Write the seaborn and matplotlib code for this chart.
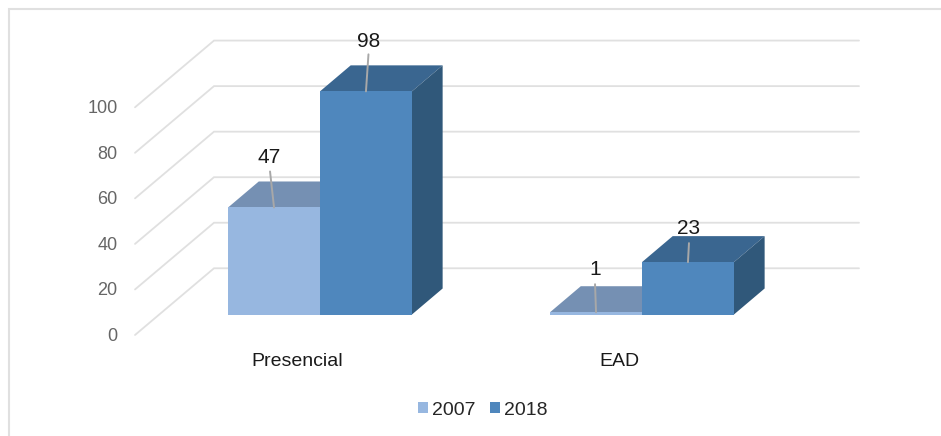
import matplotlib
matplotlib.use("Agg")
import matplotlib.pyplot as plt
from matplotlib.lines import Line2D
from matplotlib.patches import Polygon
from matplotlib.transforms import ScaledTranslation
import pandas as pd
import seaborn as sns

categories = ["Presencial", "EAD"]
years = ["2007", "2018"]
values_2007 = [47, 1]
values_2018 = [98, 23]
y_ticks = [0, 20, 40, 60, 80, 100]

FRONT = {"2007": "#97B7E0", "2018": "#4F87BD"}
TOP = {"2007": "#7590B3", "2018": "#3A6690"}
SIDE = {"2007": "#5A7595", "2018": "#30587A"}
GRID = "#E0E0E0"
LEADER = "#A8A8A8"
TICK_GREY = "#666666"

W, H = 941, 436
PX_PER_UNIT = 2.277      # vertical pixels per value unit
PX_PER_CAT = 322.0       # horizontal pixels between category centres
X0_PX, BASE_PX = 320.0, 314.5

sns.set_theme(style="white")
plt.rcParams["font.family"] = ["Liberation Sans", "DejaVu Sans"]

frame = pd.DataFrame({
    "category": categories * 2,
    "year": [years[0]] * 2 + [years[1]] * 2,
    "value": values_2007 + values_2018,
})

fig = plt.figure(figsize=(W / 100, H / 100), dpi=100, facecolor="white")
left_px, right_px = 135.0, 860.0
ax = fig.add_axes([left_px / W, (H - BASE_PX) / H, (right_px - left_px) / W, BASE_PX / H])

sns.barplot(
    data=frame, x="category", y="value", hue="year", hue_order=years,
    order=categories, palette=FRONT, saturation=1, width=0.571, gap=0,
    linewidth=0, ax=ax,
)
ax.set_xlim((left_px - X0_PX) / PX_PER_CAT, (right_px - X0_PX) / PX_PER_CAT)
ax.set_ylim(0, BASE_PX / PX_PER_UNIT)
ax.set_xlabel("")
ax.set_ylabel("")
ax.patch.set_alpha(0)
for spine in ax.spines.values():
    spine.set_visible(False)
ax.grid(False)


def cat_x(px):
    return (px - X0_PX) / PX_PER_CAT


# Receding wall grid: a diagonal on the floor side, then a run along the back wall
wall_front_x, wall_back_x, wall_end_x = cat_x(135), cat_x(214), cat_x(859)
front_drop, back_rise = 9.0, 20.3
for tick in y_ticks:
    ax.plot([wall_front_x, wall_back_x, wall_end_x],
            [tick - front_drop, tick + back_rise, tick + back_rise],
            color=GRID, lw=1.3, clip_on=False, zorder=1, solid_joinstyle="miter")

# Extruded faces built from each drawn bar
depth_x, depth_y = 30.7 / PX_PER_CAT, 26.0 / PX_PER_UNIT
for level, (year, container) in enumerate(zip(years, ax.containers)):
    for bar in container:
        x0, x1, v = bar.get_x(), bar.get_x() + bar.get_width(), bar.get_height()
        bar.set_zorder(3 + 2 * level)
        bar.set_clip_on(False)
        ax.add_patch(Polygon([(x0, v), (x1, v), (x1 + depth_x, v + depth_y), (x0 + depth_x, v + depth_y)],
                             closed=True, fc=TOP[year], ec="none", zorder=2 + 2 * level, clip_on=False))
        ax.add_patch(Polygon([(x1, 0), (x1 + depth_x, depth_y), (x1 + depth_x, v + depth_y), (x1, v)],
                             closed=True, fc=SIDE[year], ec="none", zorder=2 + 2 * level, clip_on=False))

# Value labels with leader lines, offsets in pixels from the top of each bar
leader_tail = {"47": (-4, 36), "98": (2.5, 37), "1": (-1, 28), "23": (1, 19)}
label_pos = {"47": (-4.5, 49.5), "98": (2.5, 50), "1": (-1, 43), "23": (1, 33.5)}
for container in ax.containers:
    for bar in container:
        v = bar.get_height()
        key = f"{v:.0f}"
        top = (bar.get_x() + bar.get_width() / 2, v)
        ax.annotate("", xy=top, xytext=leader_tail[key], textcoords="offset pixels",
                    arrowprops=dict(arrowstyle="-", color=LEADER, lw=1.4, shrinkA=0, shrinkB=0),
                    zorder=8, annotation_clip=False)
        ax.annotate(key, xy=top, xytext=label_pos[key], textcoords="offset pixels",
                    ha="center", va="center", fontsize=15, color="#1A1A1A",
                    zorder=9, annotation_clip=False)

# Axis labels, shifted to sit on the front edge of the receding floor
ax.set_yticks(y_ticks)
ax.set_yticklabels([str(t) for t in y_ticks], fontsize=13, color=TICK_GREY)
ax.set_xticks(range(len(categories)))
ax.set_xticklabels(categories, fontsize=14, color="#1A1A1A")
ax.tick_params(axis="both", length=0)
ax.tick_params(axis="y", pad=12.6)
ax.tick_params(axis="x", pad=28)
y_shift = ScaledTranslation(0, -20 / 100, fig.dpi_scale_trans)
x_shift = ScaledTranslation(-23 / 100, 0, fig.dpi_scale_trans)
for lab in ax.get_yticklabels():
    lab.set_transform(lab.get_transform() + y_shift)
for lab in ax.get_xticklabels():
    lab.set_transform(lab.get_transform() + x_shift)

sns.move_legend(
    ax, "center", bbox_to_anchor=(483 / W, 1 - 410 / H), bbox_transform=fig.transFigure,
    ncol=2, frameon=False, title=None, fontsize=14, handlelength=0.51, handleheight=0.51,
    handletextpad=0.2, columnspacing=0.77, borderpad=0,
)

# Thin outer frame along the top and left edges
fig.add_artist(Line2D([8.5 / W, 8.5 / W, 1], [0, 1 - 9 / H, 1 - 9 / H],
                      color="#E0E0E0", lw=1.5, solid_joinstyle="miter"))

fig.savefig("out.png", dpi=100, facecolor="white")
